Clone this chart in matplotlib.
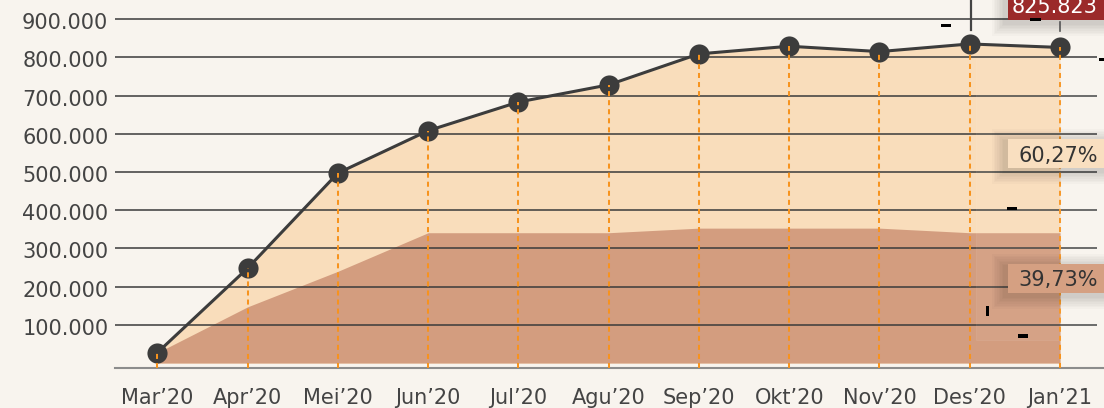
import matplotlib
matplotlib.use("Agg")
import matplotlib.pyplot as plt
from matplotlib.patches import Rectangle
from matplotlib.transforms import ScaledTranslation
import numpy as np

# ---------------- data ----------------
months = ["Mar’20", "Apr’20", "Mei’20", "Jun’20", "Jul’20", "Agu’20",
          "Sep’20", "Okt’20", "Nov’20", "Des’20", "Jan’21"]
total = [27000, 248000, 497000, 608000, 683000, 728000,
         809000, 829000, 815000, 835000, 825823]
segment = [27000, 147000, 240000, 341000, 341000, 341000,
           353000, 353000, 353000, 341000, 341000]
yticks = [100000, 200000, 300000, 400000, 500000, 600000, 700000, 800000, 900000]
ytick_labels = ["100.000", "200.000", "300.000", "400.000", "500.000",
                "600.000", "700.000", "800.000", "900.000"]
share_upper = "60,27%"
share_lower = "39,73%"
last_value_label = "825.823"

# ---------------- style ----------------
BG = "#f8f4ee"
LIGHT = "#f9ddbb"
DARK = "#d39d7f"
LINE = "#3c3c3c"
ORANGE = "#f7931e"
GRID = "#3a3a3a"
TXT = "#444444"
RED = "#9b2a2a"

plt.rcParams["font.family"] = ["DejaVu Sans"]

W, H = 1104, 408
fig = plt.figure(figsize=(W / 100, H / 100), dpi=100, facecolor=BG)
ax = fig.add_axes([115 / W, 40 / H, 989 / W, 368 / H])
ax.set_facecolor(BG)

x = np.arange(len(months))
x0, x1 = -0.4686, 10.487
y0, y1 = -13000, 950000
ax.set_xlim(x0, x1)
ax.set_ylim(y0, y1)

ax.fill_between(x, 0, total, color=LIGHT, lw=0, zorder=1)
ax.fill_between(x, 0, segment, color=DARK, lw=0, zorder=2)
ax.hlines(yticks, x0, 10.41, color=GRID, lw=1.1, zorder=3)
ax.plot(x, total, color=LINE, lw=2.2, zorder=4, solid_capstyle="round")
ax.plot(x, total, "o", color=LINE, ms=14.5, mec="none", zorder=5)
ax.vlines(x, y0, total, colors=ORANGE, lw=1.45,
          linestyles=(0, (2.5, 2.0)), zorder=6)

for s in ["top", "right", "left"]:
    ax.spines[s].set_visible(False)
ax.spines["bottom"].set_color("#8c8c8c")
ax.spines["bottom"].set_linewidth(1.5)

ax.set_yticks(yticks, ytick_labels)
ax.set_xticks(x, months)
ax.tick_params(axis="y", length=0, pad=4.8, labelsize=15, labelcolor=TXT)
ax.tick_params(axis="x", length=0, pad=14.5, labelsize=15, labelcolor=TXT)
for lab in ax.get_yticklabels():
    lab.set_transform(lab.get_transform() +
                      ScaledTranslation(0, -2 / 100, fig.dpi_scale_trans))


# ---------------- overlay decorations (pixel coordinates) ----------------
def prect(px0, py0, px1, py1, **kw):
    r = Rectangle((px0 / W, 1 - py1 / H), (px1 - px0) / W, (py1 - py0) / H,
                  transform=fig.transFigure, **kw)
    fig.add_artist(r)
    return r


def shadow(px0, py0, px1, py1):
    for i in range(1, 9):
        d = i * 1.6
        prect(px0 - d - 3, py0 - d + 3, px1 + d, py1 + d + 3,
              facecolor="black", alpha=0.018, lw=0, zorder=8)


# faint tooltip panel
prect(976, 58, 1098, 340, facecolor="white", alpha=0.06,
      edgecolor=(1, 1, 1, 0.35), lw=0.8, zorder=7)

# hover guide lines
fig.add_artist(plt.Line2D([971 / W, 971 / W], [1, 1 - 30 / H],
                          transform=fig.transFigure, color="#444444", lw=1.6, zorder=9))
fig.add_artist(plt.Line2D([1060 / W, 1060 / W], [1 - 22 / H, 1 - 31 / H],
                          transform=fig.transFigure, color="#555555", lw=1.2, zorder=9))

# value box
shadow(1008, -5, 1104, 20)
prect(1008, -5, 1104, 20, facecolor=RED, lw=0, zorder=10)
fig.text(1055 / W, 1 - 12.7 / H, last_value_label, color="white", fontsize=15,
         ha="center", va="baseline", zorder=11)

# share boxes
shadow(1008, 139, 1104, 168)
prect(1008, 139, 1104, 168, facecolor="#f9dfc0", lw=0, zorder=10)
fig.text(1098 / W, 1 - 154 / H, share_upper, color="#333333", fontsize=15,
         ha="right", va="center_baseline", zorder=11)

shadow(1008, 264, 1104, 293)
prect(1008, 264, 1104, 293, facecolor="#d5a082", lw=0, zorder=10)
fig.text(1098 / W, 1 - 278 / H, share_lower, color="#333333", fontsize=15,
         ha="right", va="center_baseline", zorder=11)

# small black artefacts
for (a, b, c, d) in [(941, 23.5, 951, 26.5), (1030, 18, 1041, 20.5),
                     (1099, 58, 1104, 61), (1007, 207, 1017, 210),
                     (986, 306, 989, 316), (1018, 334, 1028, 337.5)]:
    prect(a, b, c, d, facecolor="black", lw=0, zorder=12)

fig.savefig("out.png", dpi=100, facecolor=BG)
